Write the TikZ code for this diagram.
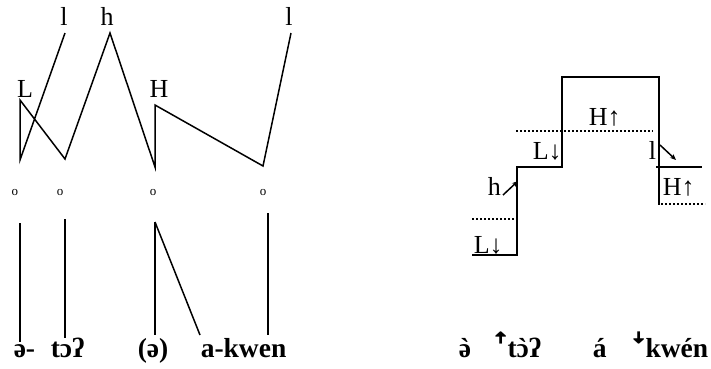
\documentclass[tikz,border=0pt]{standalone}
\usepackage{fontspec}
\setmainfont{Liberation Serif}
\usetikzlibrary{positioning, arrows.meta}
% grave tone mark placed over a letter
\newcommand{\lowtone}[1]{\leavevmode\setbox0\hbox{#1}%
  \hbox to\wd0{\hss\XeTeXglyph\XeTeXglyphindex "grave"\relax\hss}\kern-\wd0\box0}

\begin{document}
\begin{tikzpicture}[
    x=1pt, y=-1pt, % pixel-like units, y grows downwards
    line width=1.5pt,
    tone/.style={font=\fontsize{26}{28}\selectfont, inner sep=0pt, anchor=base},
    slot/.style={font=\fontsize{13}{14}\selectfont, inner sep=0pt, anchor=base},
    seg/.style={font=\fontsize{27.5}{30}\selectfont\bfseries, inner sep=0pt, anchor=base west},
    pitchlabel/.style={font=\fontsize{26}{28}\selectfont, inner sep=0pt, anchor=base west},
    level/.style={line width=2pt, dash pattern=on 2pt off 2pt},
    arrow/.style={-{Stealth[length=6pt, width=5pt]}, line width=1.5pt}
]
\useasboundingbox (0,0) rectangle (711,368);

% Tone tier labels
\node[tone] (l1) at (64,25) {l};
\node[tone] (h1) at (107,25) {h};
\node[tone] (L1) at (25,97) {L};
\node[tone] (H1) at (159,97) {H};
\node[tone] (l2) at (289,25) {l};

% Tone tier association points
\coordinate (p1) at (65,33);
\coordinate (p2) at (20,160);
\coordinate (p3) at (20,100);
\coordinate (p4) at (65,159);
\coordinate (p5) at (110,33);
\coordinate (p6) at (155,167);
\coordinate (p7) at (155,105);
\coordinate (p8) at (263,166);
\coordinate (p9) at (291,33);
\draw[line join=miter] (p1) -- (p2) -- (p3) -- (p4) -- (p5) -- (p6) -- (p7) -- (p8) -- (p9);

% Timing slots
\node[slot] (o1) at (15,195) {o};
\node[slot] (o2) at (60,195) {o};
\node[slot] (o3) at (153,195) {o};
\node[slot] (o4) at (263,195) {o};

% Segmental tier
\node[seg] (s1) at (13,357) {ə-};
\node[seg] (s2) at (50,357) {tɔʔ};
\node[seg] (s3) at (137,357) {(ə)};
\node[seg] (s4) at (200,357) {a-kwen};

% Slot-to-segment lines
\coordinate (a1) at (20,223);
\coordinate (b1) at (20,342);
\coordinate (a2) at (65,219);
\coordinate (b2) at (65,338);
\coordinate (a3) at (155,222);
\coordinate (b3) at (155,335);
\coordinate (c3) at (200,335);
\coordinate (a4) at (268,213);
\coordinate (b4) at (268,335);
\draw (a1) -- (b1);
\draw (a2) -- (b2);
\draw (a3) -- (b3);
\draw (a3) -- (c3);
\draw (a4) -- (b4);

% Pitch contour
\coordinate (q1) at (472,255);
\coordinate (q2) at (517,255);
\coordinate (q3) at (517,167);
\coordinate (q4) at (562,167);
\coordinate (q5) at (562,77);
\coordinate (q6) at (659,77);
\coordinate (q7) at (659,205);
\coordinate (r1) at (656,167);
\coordinate (r2) at (702,167);
\draw[line join=miter] (q1) -- (q2) -- (q3) -- (q4) -- (q5) -- (q6) -- (q7);
\draw (r1) -- (r2);

% Dotted reference levels
\coordinate (d1) at (472,219);
\coordinate (d2) at (514,219);
\coordinate (d3) at (516,131);
\coordinate (d4) at (653,131);
\coordinate (d5) at (661,204);
\coordinate (d6) at (705,204);
\draw[level] (d1) -- (d2);
\draw[level] (d3) -- (d4);
\draw[level] (d5) -- (d6);

% Pitch labels
\node[pitchlabel] (pL1) at (473,253) {L↓};
\node[pitchlabel] (ph) at (487,195) {h};
\node[pitchlabel] (pL2) at (532,159) {L↓};
\node[pitchlabel] (pH1) at (588,125) {H↑};
\node[pitchlabel] (pl) at (648,159) {l};
\node[pitchlabel] (pH2) at (662,195) {H↑};

% Raising / lowering arrows
\coordinate (u1) at (503,195);
\coordinate (u2) at (518,181);
\coordinate (w1) at (660,145);
\coordinate (w2) at (676,160);
\draw[arrow] (u1) -- (u2);
\draw[arrow] (w1) -- (w2);

% Surface forms
\node[seg] (t1) at (458,357) {\lowtone{ə}};
\node[seg] (t2) at (493,357) {ꜛt\lowtone{ɔ}ʔ};
\node[seg] (t3) at (592,357) {á};
\node[seg] (t4) at (631,357) {ꜜkwén};
\end{tikzpicture}
\end{document}
